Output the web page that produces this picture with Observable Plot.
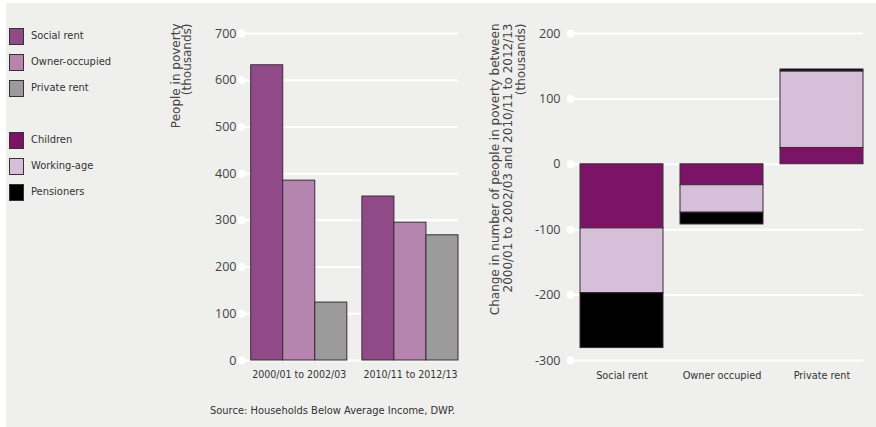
<!DOCTYPE html>
<html><head><meta charset="utf-8">
<script src="https://cdn.jsdelivr.net/npm/d3@7"></script>
<script src="https://cdn.jsdelivr.net/npm/@observablehq/plot@0.6"></script>
<style>
html,body{margin:0;padding:0;background:#fff;}
#wrap{position:relative;width:876px;height:427px;overflow:hidden;background:#fff;}
#bg{position:absolute;left:6px;top:3px;right:0;bottom:0;background:#efefed;}
.narrow{font-family:"Liberation Sans Narrow","DejaVu Sans Condensed","Arial Narrow",sans-serif;font-stretch:condensed;}
.leg{position:absolute;left:9px;height:17px;font-size:11px;color:#333;line-height:17px;}
.leg .sw{position:absolute;left:0;top:0;width:13px;height:15px;border:1px solid #333;}
.leg span{position:absolute;left:22px;top:-1px;white-space:nowrap;}
#left{position:absolute;left:160px;top:0;}
#right{position:absolute;left:480px;top:0;}
#source{position:absolute;left:210px;top:404px;font-size:11px;color:#333;white-space:nowrap;}
</style></head>
<body>
<div id="wrap"><div id="bg"></div>
<div id="legend"></div>
<div id="left"></div>
<div id="right"></div>
<div id="source" class="narrow">Source: Households Below Average Income, DWP.</div>
</div>
<script>
// ---- Data: left chart ----
const periods = ["2000/01 to 2002/03", "2010/11 to 2012/13"];
const tenures = ["Social rent", "Owner-occupied", "Private rent"];
const socialRent = [632, 351];
const ownerOccupied = [385, 295];
const privateRent = [124, 268];
const leftTicks = [0, 100, 200, 300, 400, 500, 600, 700];
const leftTitle = "People in poverty\n(thousands)";

// ---- Data: right chart ----
const changeCats = ["Social rent", "Owner occupied", "Private rent"];
const ageGroups = ["Children", "Working-age", "Pensioners"];
const children = [-98, -32, 25];
const workingAge = [-99, -42, 117];
const pensioners = [-84, -18, 3];
const rightTicks = [-300, -200, -100, 0, 100, 200];
const rightTitle = "Change in number of people in poverty between\n2000/01 to 2002/03 and 2010/11 to 2012/13\n(thousands)";

const tenureColors = ["#8f4a87", "#b585b0", "#9b9b9b"];
const ageColors = ["#7b1467", "#d5bfd9", "#000000"];
const NARROW = '"Liberation Sans Narrow","DejaVu Sans Condensed","Arial Narrow",sans-serif';
const WIDE = '"Open Sans","DejaVu Sans",sans-serif';
const TITLE = '"DejaVu Sans",sans-serif';
const OUTLINE = "#3a2a37";

// ---- Legend ----
const legendItems = [
  [tenures[0], tenureColors[0], 36], [tenures[1], tenureColors[1], 62], [tenures[2], tenureColors[2], 88],
  [ageGroups[0], ageColors[0], 140], [ageGroups[1], ageColors[1], 166], [ageGroups[2], ageColors[2], 192]
];
const legend = document.getElementById("legend");
for (const [label, color, cy] of legendItems) {
  const d = document.createElement("div");
  d.className = "leg narrow";
  d.style.top = (cy - 8.5) + "px";
  d.innerHTML = `<div class="sw" style="background:${color}"></div><span>${label}</span>`;
  legend.appendChild(d);
}

// ---- Left chart ----
const GROUP_STEP = 3.47; // layout spacing between period groups (in bar widths)
const seriesByTenure = [socialRent, ownerOccupied, privateRent];
const leftRows = [];
periods.forEach((p, pi) => tenures.forEach((t, ti) => {
  leftRows.push({period: p, tenure: t, value: seriesByTenure[ti][pi], pos: pi * GROUP_STEP + ti});
}));

const leftPlot = Plot.plot({
  width: 320, height: 400,
  marginLeft: 81, marginRight: 22, marginTop: 33, marginBottom: 40,
  style: {background: "transparent", overflow: "visible"},
  x: {domain: [0, GROUP_STEP + 3], axis: null, insetLeft: 9.7},
  y: {domain: [0, 700], axis: null},
  color: {domain: tenures, range: tenureColors},
  marks: [
    Plot.ruleY(leftTicks, {y: d => d, stroke: "#fff", strokeWidth: 2}),
    Plot.dot(leftTicks, {y: d => d, frameAnchor: "left", r: 4, fill: "#fff", stroke: "none"}),
    Plot.text(leftTicks, {y: d => d, frameAnchor: "left", text: d => String(d), textAnchor: "end", dx: -5,
      fontSize: 12.5, fontFamily: WIDE, fill: "#444"}),
    Plot.rectY(leftRows, {x1: "pos", x2: d => d.pos + 1, y: "value", fill: "tenure", stroke: OUTLINE, strokeWidth: 1}),
    Plot.text(periods, {x: (d, i) => i * GROUP_STEP + 1.5, frameAnchor: "bottom", dy: 17, text: d => d,
      fontSize: 10.5, fontFamily: NARROW, fill: "#333"}),
    Plot.text([leftTitle], {frameAnchor: "top-left", text: d => d, rotate: -90, textAnchor: "end",
      dx: -69, dy: -10, fontSize: 12, fontFamily: TITLE, fill: "#444", lineHeight: 0.92})
  ]
});
document.getElementById("left").appendChild(leftPlot);

// ---- Right chart ----
const seriesByAge = [children, workingAge, pensioners];
const rightRows = [];
changeCats.forEach((c, ci) => ageGroups.forEach((g, gi) => {
  rightRows.push({cat: c, group: g, value: seriesByAge[gi][ci]});
}));

const rightPlot = Plot.plot({
  width: 396, height: 400,
  marginLeft: 90, marginRight: 13, marginTop: 33, marginBottom: 40,
  style: {background: "transparent", overflow: "visible"},
  x: {domain: changeCats, axis: null, insetLeft: 9.3, paddingInner: 0.174, paddingOuter: 0},
  y: {domain: [-300, 200], axis: null},
  color: {domain: ageGroups, range: ageColors},
  marks: [
    Plot.ruleY(rightTicks, {y: d => d, stroke: "#fff", strokeWidth: 2}),
    Plot.dot(rightTicks, {y: d => d, frameAnchor: "left", r: 4, fill: "#fff", stroke: "none"}),
    Plot.text(rightTicks, {y: d => d, frameAnchor: "left", text: d => String(d), textAnchor: "end", dx: -10,
      fontSize: 12.5, fontFamily: WIDE, fill: "#444"}),
    Plot.barY(rightRows, {x: "cat", y: "value", fill: "group", stroke: OUTLINE, strokeWidth: 1}),
    Plot.text(changeCats, {x: d => d, frameAnchor: "bottom", dy: 18, text: d => d,
      fontSize: 10.8, fontFamily: NARROW, fill: "#333"}),
    Plot.text([rightTitle], {frameAnchor: "top-left", text: d => d, rotate: -90, textAnchor: "end",
      dx: -80, dy: -10, fontSize: 12, fontFamily: TITLE, fill: "#444", lineHeight: 1.05})
  ]
});
document.getElementById("right").appendChild(rightPlot);
</script>
</body></html>
